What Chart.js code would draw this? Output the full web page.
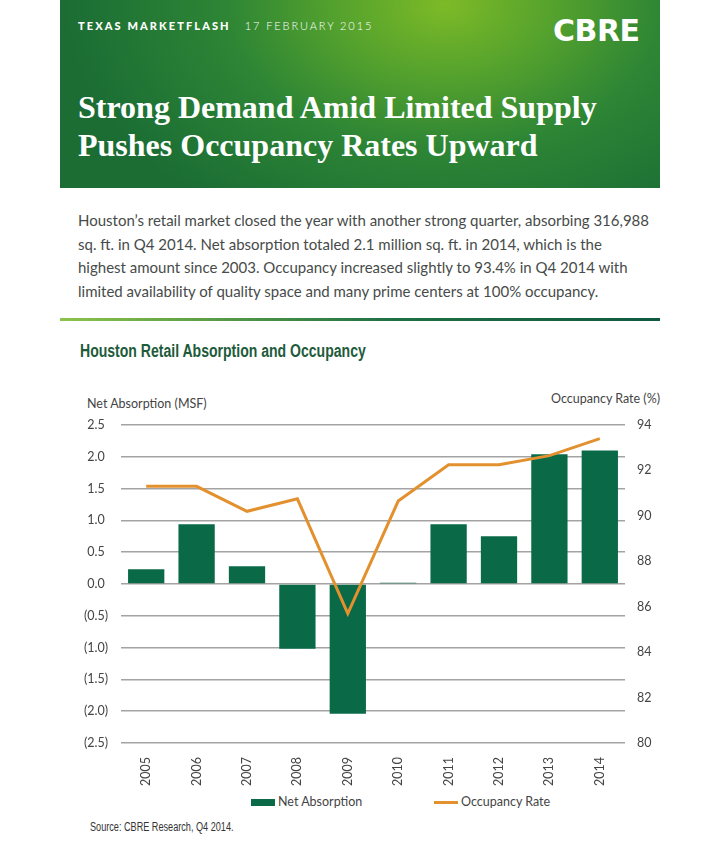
<!DOCTYPE html>
<html>
<head>
<meta charset="utf-8">
<script src="https://cdn.jsdelivr.net/npm/chart.js@4.4.0/dist/chart.umd.min.js"></script>
<style>
body { margin: 0; width: 720px; height: 852px; background: #fff; position: relative; overflow: hidden; font-family: Lato, "Noto Sans", sans-serif; }
.hdr { position: absolute; left: 60px; top: 0; width: 600px; height: 188px;
  background: radial-gradient(ellipse 380px 250px at 385px 5px, #7dba27 0%, #55a22d 28%, #2d8535 58%, #1b6d34 100%); }
.kick { position: absolute; left: 78px; top: 19px; color: #fff; font-size: 11px; letter-spacing: 2.1px; white-space: nowrap; }
.kick b { font-weight: 900; margin-right: 14px; }
.kick span { font-weight: 300; letter-spacing: 1.9px; }
.logo { position: absolute; left: 553px; top: 13px; color: #fff; font-family: "DejaVu Sans"; font-weight: bold; font-size: 30px; letter-spacing: -0.5px; }
.title { position: absolute; left: 78px; top: 88px; color: #fff; font-family: "Liberation Serif", serif; font-weight: bold; font-size: 32px; line-height: 38px; white-space: nowrap; }
.para { position: absolute; left: 78px; top: 209px; color: #474b49; font-size: 15px; line-height: 23.7px; white-space: nowrap; }
.rule { position: absolute; left: 60px; top: 318px; width: 600px; height: 3px; background: linear-gradient(90deg, #8cc34a, #1f7044 55%, #0f5a40); }
.ctitle { position: absolute; left: 80px; top: 341px; color: #1d5b3b; font-family: "Liberation Sans", sans-serif; font-weight: bold; font-size: 18px; white-space: nowrap; transform: scaleX(0.78); transform-origin: left center; }
.ax { position: absolute; color: #444; font-size: 12.5px; white-space: nowrap; }
#wrap { position: absolute; left: 80px; top: 380px; width: 640px; height: 410px; }
.leg { position: absolute; top: 794px; color: #444; font-size: 12.5px; white-space: nowrap; }
.leg i { display: inline-block; vertical-align: middle; margin-right: 3px; }
.src { position: absolute; left: 90px; top: 820px; color: #333; font-family: "Liberation Sans", sans-serif; font-size: 12.5px; white-space: nowrap; transform: scaleX(0.73); transform-origin: left center; }
</style>
</head>
<body>
<div class="hdr"></div>
<div class="kick"><b>TEXAS MARKETFLASH</b><span>17 FEBRUARY 2015</span></div>
<div class="logo">CBRE</div>
<div class="title">Strong Demand Amid Limited Supply<br>Pushes Occupancy Rates Upward</div>
<div class="para">Houston’s retail market closed the year with another strong quarter, absorbing 316,988<br>sq. ft. in Q4 2014. Net absorption totaled 2.1 million sq. ft. in 2014, which is the<br>highest amount since 2003. Occupancy increased slightly to 93.4% in Q4 2014 with<br>limited availability of quality space and many prime centers at 100% occupancy.</div>
<div class="rule"></div>
<div class="ctitle">Houston Retail Absorption and Occupancy</div>
<div class="ax" style="left:87px; top:396px;">Net Absorption (MSF)</div>
<div class="ax" style="left:551px; top:391px;">Occupancy Rate (%)</div>
<div id="wrap"><canvas id="chart"></canvas></div>
<div id="legend"></div>
<div class="src">Source: CBRE Research, Q4 2014.</div>
<script>
const years = ['2005', '2006', '2007', '2008', '2009', '2010', '2011', '2012', '2013', '2014'];
const netAbsorption = [0.23, 0.94, 0.28, -1.02, -2.04, 0.02, 0.94, 0.75, 2.04, 2.10];
const occupancyRate = [91.3, 91.3, 90.2, 90.75, 85.7, 90.65, 92.25, 92.25, 92.65, 93.4];
const seriesNames = ['Net Absorption', 'Occupancy Rate'];

const green = '#0a6a48';
const orange = '#e3902f';
const tickFont = { family: 'Lato', size: 12.5 };

const data = {
    labels: years,
    datasets: [
        {
            type: 'line',
            label: seriesNames[1],
            data: occupancyRate,
            yAxisID: 'y1',
            borderColor: orange,
            backgroundColor: orange,
            borderWidth: 3,
            pointRadius: 0,
            tension: 0,
            order: 0
        },
        {
            type: 'bar',
            label: seriesNames[0],
            data: netAbsorption,
            yAxisID: 'y',
            backgroundColor: green,
            barPercentage: 0.72,
            categoryPercentage: 1,
            order: 1
        }
    ]
};

const config = {
    type: 'bar',
    data: data,
    options: {
        responsive: true,
        maintainAspectRatio: false,
        animation: false,
        layout: { padding: { top: 45, bottom: 0, left: 0, right: 0 } },
        plugins: {
            legend: { display: false },
            tooltip: { enabled: false }
        },
        scales: {
            x: {
                grid: { display: false },
                border: { display: false },
                ticks: { color: '#444', font: tickFont, minRotation: 90, maxRotation: 90, padding: 6 },
                afterFit: (s) => { s.height = 47; }
            },
            y: {
                position: 'left',
                min: -2.5,
                max: 2.5,
                grid: { color: '#a3a3a3', lineWidth: 1.5, drawTicks: false },
                border: { display: false },
                ticks: {
                    stepSize: 0.5,
                    color: '#444',
                    font: tickFont,
                    crossAlign: 'center',
                    padding: 13,
                    callback: (v) => v < 0 ? '(' + Math.abs(v).toFixed(1) + ')' : v.toFixed(1)
                },
                afterFit: (s) => { s.width = 41; }
            },
            y1: {
                position: 'right',
                min: 80,
                max: 94,
                grid: { drawOnChartArea: false, drawTicks: false },
                border: { display: false },
                ticks: { stepSize: 2, color: '#444', font: tickFont, padding: 12 },
                afterFit: (s) => { s.width = 95; }
            }
        }
    }
};

const chart = new Chart(document.getElementById('chart'), config);

// legend built from the datasets
const legendPos = [{ left: 251, w: 24, h: 7 }, { left: 434, w: 24, h: 3 }];
const legend = document.getElementById('legend');
[chart.data.datasets[1], chart.data.datasets[0]].forEach((ds, i) => {
    const p = legendPos[i];
    const el = document.createElement('div');
    el.className = 'leg';
    el.style.left = p.left + 'px';
    const sw = document.createElement('i');
    sw.style.width = p.w + 'px';
    sw.style.height = p.h + 'px';
    sw.style.background = ds.type === 'line' ? ds.borderColor : ds.backgroundColor;
    el.appendChild(sw);
    el.appendChild(document.createTextNode(ds.label));
    legend.appendChild(el);
});
</script>
</body>
</html>
